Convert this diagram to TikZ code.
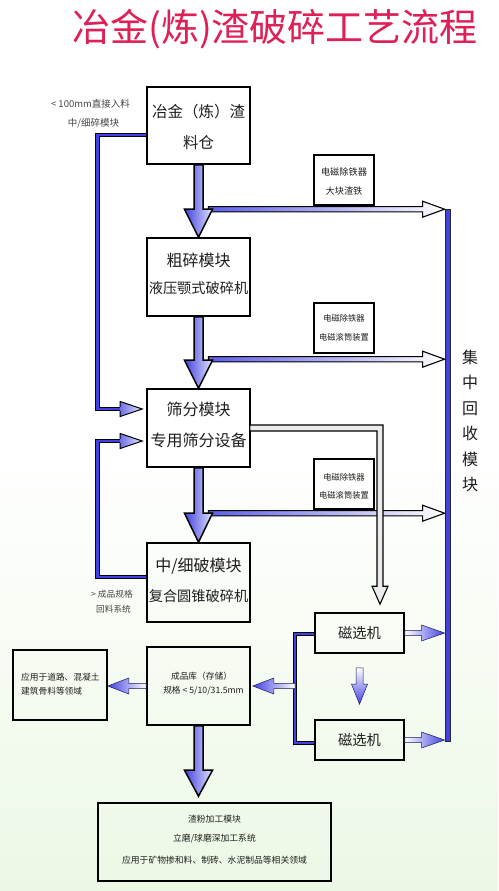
\documentclass[tikz,border=0pt]{standalone}
\usepackage{fontspec}
\setmainfont{Noto Sans CJK SC}
\usetikzlibrary{calc}
\definecolor{myblue}{RGB}{66,66,226}
\definecolor{titlered}{RGB}{222,32,86}
\definecolor{bggreen}{RGB}{236,248,229}
\definecolor{txt}{RGB}{30,30,30}
\definecolor{gtxt}{RGB}{70,70,70}
\newcommand\rarrow[6]{\draw[#6] ($(#1)+(0,-#3)$) -- ($(#2)+(-#5,-#3)$) -- ($(#2)+(-#5,-#4)$) -- (#2) -- ($(#2)+(-#5,#4)$) -- ($(#2)+(-#5,#3)$) -- ($(#1)+(0,#3)$) -- cycle;}
\newcommand\larrow[6]{\draw[#6] ($(#1)+(0,-#3)$) -- ($(#2)+(#5,-#3)$) -- ($(#2)+(#5,-#4)$) -- (#2) -- ($(#2)+(#5,#4)$) -- ($(#2)+(#5,#3)$) -- ($(#1)+(0,#3)$) -- cycle;}
\newcommand\darrow[6]{\draw[#6] ($(#1)+(-#3,0)$) -- ($(#2)+(-#3,-#5)$) -- ($(#2)+(-#4,-#5)$) -- (#2) -- ($(#2)+(#4,-#5)$) -- ($(#2)+(#3,-#5)$) -- ($(#1)+(#3,0)$) -- cycle;}
\newcommand\fbhead[2]{\draw[fbhd] ($(#1)+(0,-2.2)$) -- ($(#1)+(0,-7.5)$) -- (#2) -- ($(#1)+(0,7.5)$) -- ($(#1)+(0,2.2)$);}
\begin{document}
\begin{tikzpicture}[x=1pt,y=-1pt,
  box/.style={draw=black,line width=1.6pt,inner sep=0pt},
  t/.style={inner sep=0pt,text=txt},
  gt/.style={inner sep=0pt,text=gtxt},
  fat/.style={draw=black,line width=1.5pt,line join=miter,left color=myblue,right color=myblue!15},
  hollow/.style={draw=black,line width=1.1pt,left color=myblue!85,right color=white},
  gradR/.style={draw=myblue!40!black,line width=0.5pt,left color=white,right color=myblue},
  gradL/.style={draw=myblue!40!black,line width=0.5pt,left color=myblue,right color=white},
  gradD/.style={draw=myblue!40!black,line width=0.5pt,top color=white,bottom color=myblue},
  fb/.style={draw=black,line width=0.9pt,double=myblue,double distance=2.6pt},
  fbhd/.style={draw=black,line width=1pt,left color=myblue!75,right color=myblue!15},
  vsh/.style={draw=black,line width=1.1pt,fill=white!92!black}]
\useasboundingbox (0,0) rectangle (498,891);
\fill[top color=white,bottom color=bggreen,middle color=white] (0,0) rectangle (498,891);

% title
\node[inner sep=0pt,text=titlered,font=\fontsize{38}{38}\selectfont] (title) at (275,29) {冶金(炼)渣破碎工艺流程};

% boxes
\node[box,minimum width=103pt,minimum height=77pt] (b1) at (198.5,125.5) {};
\node[box,minimum width=103pt,minimum height=78pt] (b2) at (198.5,277) {};
\node[box,minimum width=103pt,minimum height=78pt] (b3) at (198.5,428) {};
\node[box,minimum width=103pt,minimum height=79pt] (b4) at (198.5,582.5) {};
\node[box,minimum width=103pt,minimum height=78pt] (b5) at (198.5,686) {};
\node[box,minimum width=94pt,minimum height=70pt] (b6) at (60,685) {};
\node[box,minimum width=233pt,minimum height=78pt] (b7) at (214.5,842) {};
\node[box,minimum width=89pt,minimum height=40pt] (ms1) at (359.5,633) {};
\node[box,minimum width=89pt,minimum height=40pt] (ms2) at (359.5,740) {};
\node[box,line width=1.3pt,minimum width=60pt,minimum height=50pt] (s1) at (344,180) {};
\node[box,line width=1.3pt,minimum width=60pt,minimum height=50pt] (s2) at (344,328) {};
\node[box,line width=1.3pt,minimum width=60pt,minimum height=50pt] (s3) at (344,484) {};
\node[draw=black!85,line width=0.8pt,fill=myblue,inner sep=0pt,minimum width=5pt,minimum height=532pt] (bar) at (447.5,475) {};

% box texts
\node[t,font=\fontsize{15.5}{16}\selectfont] (b1a) at ($(b1)+(0,-13.5)$) {冶金（炼）渣};
\node[t,font=\fontsize{15.5}{16}\selectfont] (b1b) at ($(b1)+(0,17.5)$) {料仓};
\node[t,font=\fontsize{16}{16}\selectfont] (b2a) at ($(b2)+(0,-17)$) {粗碎模块};
\node[t,font=\fontsize{14.2}{15}\selectfont] (b2b) at ($(b2)+(0,11)$) {液压颚式破碎机};
\node[t,font=\fontsize{16}{16}\selectfont] (b3a) at ($(b3)+(0,-19)$) {筛分模块};
\node[t,font=\fontsize{16}{16}\selectfont] (b3b) at ($(b3)+(0,12)$) {专用筛分设备};
\node[t,font=\fontsize{16}{16}\selectfont] (b4a) at ($(b4)+(0,-16.5)$) {中/细破模块};
\node[t,font=\fontsize{14.2}{15}\selectfont] (b4b) at ($(b4)+(0,13.5)$) {复合圆锥破碎机};
\node[t,font=\fontsize{8.7}{9}\selectfont] (b5a) at ($(b5)+(3,-10)$) {成品库（存储）};
\node[t,font=\fontsize{8.7}{9}\selectfont] (b5b) at ($(b5)+(5,5)$) {规格 < 5/10/31.5mm};
\node[t,font=\fontsize{8.7}{9}\selectfont,anchor=west] (b6a) at (21,677) {应用于道路、混凝土};
\node[t,font=\fontsize{8.7}{9}\selectfont,anchor=west] (b6b) at (21,691) {建筑骨料等领域};
\node[t,font=\fontsize{8.8}{9}\selectfont] (b7a) at ($(b7)+(0,-23)$) {渣粉加工模块};
\node[t,font=\fontsize{8.8}{9}\selectfont] (b7b) at ($(b7)+(0,-3)$) {立磨/球磨深加工系统};
\node[t,font=\fontsize{8.8}{9}\selectfont] (b7c) at ($(b7)+(0,18)$) {应用于矿物掺和料、制砖、水泥制品等相关领域};
\node[t,font=\fontsize{14.3}{15}\selectfont] (ms1t) at (ms1) {磁选机};
\node[t,font=\fontsize{14.3}{15}\selectfont] (ms2t) at (ms2) {磁选机};
\node[t,font=\fontsize{9.2}{9}\selectfont] (s1a) at ($(s1)+(0,-8)$) {电磁除铁器};
\node[t,font=\fontsize{9.2}{9}\selectfont] (s1b) at ($(s1)+(0,11)$) {大块渣铁};
\node[t,font=\fontsize{8.3}{9}\selectfont] (s2a) at ($(s2)+(0,-10)$) {电磁除铁器};
\node[t,font=\fontsize{8.3}{9}\selectfont] (s2b) at ($(s2)+(0,9)$) {电磁滚筒装置};
\node[t,font=\fontsize{8.3}{9}\selectfont] (s3a) at ($(s3)+(0,-7)$) {电磁除铁器};
\node[t,font=\fontsize{8.3}{9}\selectfont] (s3b) at ($(s3)+(0,11)$) {电磁滚筒装置};
\node[t,font=\fontsize{16}{25.5}\selectfont,align=center] (vt) at (470,421) {集\\中\\回\\收\\模\\块};

% side labels
\node[gt,font=\fontsize{9.5}{10}\selectfont] (l1a) at (90.5,104) {< 100mm直接入料};
\node[gt,font=\fontsize{9.5}{10}\selectfont] (l1b) at (93.5,123) {中/细碎模块};
\node[gt,font=\fontsize{8.7}{9}\selectfont] (l2a) at (112,594) {> 成品规格};
\node[gt,font=\fontsize{8.7}{9}\selectfont] (l2b) at (113.5,609) {回料系统};

% helper coordinates
\coordinate (fbx) at (97.5,0);
\coordinate (in1) at ($(b3.west)+(-26,-19)$);
\coordinate (tip1) at ($(b3.west)+(-4,-19)$);
\coordinate (in2) at ($(b3.west)+(-26,13)$);
\coordinate (tip2) at ($(b3.west)+(-4,13)$);
\coordinate (h1) at ($(b2.north)+(10,-28)$);
\coordinate (h2) at ($(b3.north)+(10,-29)$);
\coordinate (h3) at ($(b4.north)+(10,-29)$);
\coordinate (cx) at ($(ms1.north)+(20.5,-8)$);
\coordinate (bx) at (295,0);
\coordinate (m1) at ($(ms1.south)+(0,14)$);
\coordinate (m2) at ($(ms2.north)+(0,-15)$);
\coordinate (t5) at ($(b5.south|-b7.north)+(0,-6)$);

% feedback lines
\draw[fb] ($(b1.west)+(0,9.5)$) -| (fbx|-in1) -- (in1);
\fbhead{in1}{tip1}
\draw[fb] ($(b4.west)+(0,-5.5)$) -| (fbx|-in2) -- (in2);
\fbhead{in2}{tip2}

% hollow arrows to recovery bar
\rarrow{h1}{bar.west|-h1}{2.6}{8}{22}{hollow}
\rarrow{h2}{bar.west|-h2}{2.6}{8}{22}{hollow}
\rarrow{h3}{bar.west|-h3}{2.6}{8}{22}{hollow}

% screen -> magnetic separator
\draw[vsh] ($(b3.east)+(-1,-3)$) -- ($(cx|-b3.east)+(3,-3)$) -- ($(cx)+(3,-18)$) -- ($(cx)+(8,-18)$) -- (cx) -- ($(cx)+(-8,-18)$) -- ($(cx)+(-3,-18)$) -- ($(cx|-b3.east)+(-3,3)$) -- ($(b3.east)+(-1,3)$) -- cycle;

% main fat arrows
\darrow{b1.south}{b2.north}{4.5}{14}{28}{fat}
\darrow{b2.south}{b3.north}{4.5}{14}{28}{fat}
\darrow{b3.south}{b4.north}{4.5}{14}{29}{fat}
\darrow{b5.south}{t5}{4.5}{14}{26}{fat}

% magnetic separator bracket
\draw[fb] ($(ms1.west)+(0,1)$) -| ($(bx|-ms2.west)+(0,3)$) -- ($(ms2.west)+(0,3)$);
\larrow{bx|-b5.east}{$(b5.east)+(2,0)$}{2.6}{8}{21}{gradL}
\larrow{b5.west}{b6.east|-b5.west}{2.6}{8}{21}{gradL}
\rarrow{ms1.east}{bar.west|-ms1.east}{2.6}{8}{23}{gradR}
\rarrow{ms2.east}{bar.west|-ms2.east}{2.6}{8}{23}{gradR}
\darrow{m1}{m2}{3.5}{8}{20}{gradD}
\end{tikzpicture}
\end{document}
